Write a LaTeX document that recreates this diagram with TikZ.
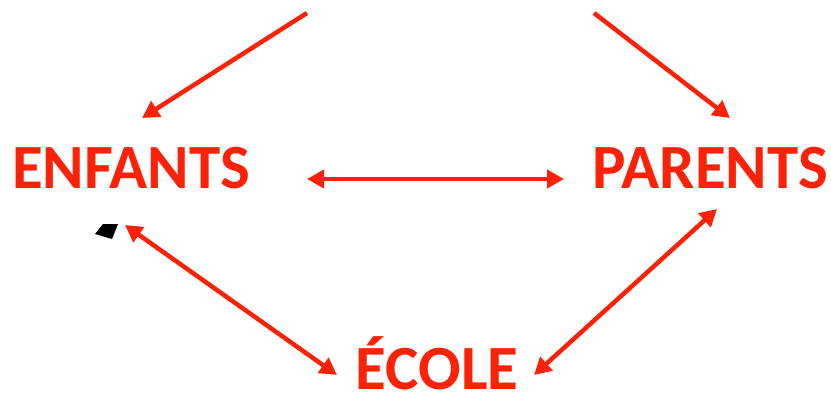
\documentclass[tikz,border=0pt]{standalone}
\usepackage{fontspec}
\setmainfont{Carlito}
\usetikzlibrary{arrows.meta}
\definecolor{redc}{RGB}{252,34,8}
\tikzset{
  lbl/.style={text=redc, font=\bfseries\fontsize{63}{63}\selectfont, inner sep=0pt, text depth=0pt, anchor=base},
  arr/.style={draw=redc, line width=4.5pt, -{Triangle[length=17pt,width=18pt]}},
  darr/.style={draw=redc, line width=4.5pt, {Triangle[length=17pt,width=18pt]}-{Triangle[length=17pt,width=18pt]}}
}
\begin{document}
\begin{tikzpicture}[x=1pt,y=-1pt]
\useasboundingbox (0,0) rectangle (831,397);
\node[lbl] (enf) at (131,188) {ENFANTS};
\node[lbl] (par) at (710,188) {PARENTS};
\node[lbl] (eco) at (437,389) {ÉCOLE};
\coordinate (s1) at (307,13);
\coordinate (t1) at (142,118);
\coordinate (s2) at (594,13);
\coordinate (t2) at (730,118);
\coordinate (h1) at (307,179);
\coordinate (h2) at (564,179);
\coordinate (a1) at (125,225);
\coordinate (a2) at (337,375);
\coordinate (b1) at (534,375);
\coordinate (b2) at (717,209);
\draw[arr] (s1) -- (t1);
\draw[arr] (s2) -- (t2);
\draw[darr] (h1) -- (h2);
\draw[darr] (a1) -- (a2);
\draw[darr] (b1) -- (b2);
\fill (103,224) -- (118,224) -- (112,239) -- (95,234) -- cycle;
\end{tikzpicture}
\end{document}
